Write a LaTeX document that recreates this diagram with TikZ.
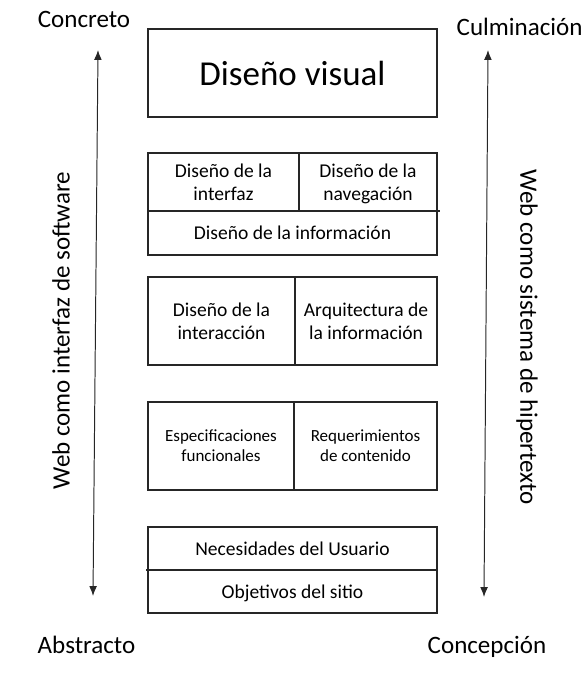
\documentclass[tikz,border=0pt]{standalone}
\usepackage{fontspec}
\setmainfont{Carlito}
\usetikzlibrary{positioning}
\usetikzlibrary{arrows.meta}
\tikzset{
    cell/.style = {rectangle, line width=1pt, draw=black!85, outer sep=0pt, inner sep=0pt, align=center, text depth=-0.2em, font=\fontsize{13.9}{16.4}\selectfont},
    smallcell/.style = {cell, font=\fontsize{12.1}{14.2}\selectfont},
    side/.style = {inner sep=0pt, font=\fontsize{17.8}{20}\selectfont},
    edgea/.style = {>={Latex[length=7pt,width=5.5pt]}, <->, line width=0.7pt, black!85},
    divl/.style = {line width=1pt, draw=black!85}
}

\begin{document}
\begin{tikzpicture}
  \useasboundingbox (0,0) rectangle (14.65,-17.025);

  \node[cell, minimum width=7.225cm, minimum height=2.2cm, text depth=0pt, font=\fontsize{24.9}{28}\selectfont] at (7.3125,-1.825) (vis) {Diseño visual};

  \node[cell, minimum width=3.775cm, minimum height=1.45cm, anchor=north west] at (3.7,-3.825) (intf) {Diseño de la\\interfaz};
  \node[cell, minimum width=3.45cm, minimum height=1.45cm, right=0cm of intf] (nav) {Diseño de la\\navegación};
  \node[cell, minimum width=7.225cm, minimum height=1.1cm, below right=0cm and 0cm of intf.south west] (inf) {Diseño de la información};

  \node[cell, minimum width=3.675cm, minimum height=2.2cm, anchor=north west] at (3.7,-6.925) (inter) {Diseño de la\\interacción};
  \node[cell, minimum width=3.55cm, minimum height=2.2cm, right=0cm of inter] (arq) {Arquitectura de\\la información};

  \node[smallcell, minimum width=3.65cm, minimum height=2.2cm, anchor=north west] at (3.7,-10.05) (esp) {Especificaciones\\funcionales};
  \node[smallcell, minimum width=3.575cm, minimum height=2.2cm, right=0cm of esp] (req) {Requerimientos\\de contenido};

  \node[cell, minimum width=7.225cm, minimum height=1.075cm, anchor=north west] at (3.7,-13.175) (nec) {Necesidades del Usuario};
  \node[cell, minimum width=7.225cm, minimum height=1.075cm, below right=0cm and 0cm of nec.south west] (obj) {Objetivos del sitio};

  % lines running past the boxes
  \draw[divl] (inf.north west) -- ([xshift=0.075cm]inf.north east);
  \draw[divl] ([xshift=-0.05cm]obj.north west) -- ([xshift=0.025cm]obj.north east);

  \node[side, anchor=base] at (2.1,-0.675) (conc) {Concreto};
  \node[side, anchor=base] at (12.99,-0.875) (culm) {Culminación};
  \node[side, anchor=base] at (2.1625,-16.325) (abst) {Abstracto};
  \node[side, anchor=base] at (12.175,-16.325) (concep) {Concepción};
  \node[side, rotate=90] at (1.525,-8.2625) (wsw) {Web como interfaz de software};
  \node[side, rotate=-90] at (13.175,-8.4375) (wht) {Web como sistema de hipertexto};

  \coordinate (lt) at (2.45,-1.25);
  \coordinate (lb) at (2.325,-14.9);
  \coordinate (rt) at (12.2,-1.25);
  \coordinate (rb) at (12.1,-14.925);
  \draw[edgea] (lb) -- (lt);
  \draw[edgea] (rb) -- (rt);
\end{tikzpicture}
\end{document}
